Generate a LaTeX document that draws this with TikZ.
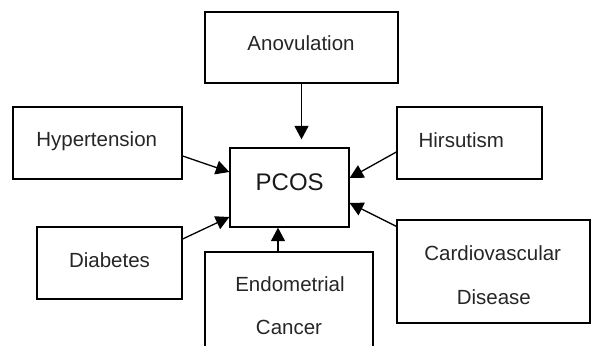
\documentclass[tikz,border=0pt]{standalone}
\usepackage{fontspec}
\setmainfont{Liberation Sans}
\usetikzlibrary{arrows.meta}
\begin{document}
\begin{tikzpicture}[x=1pt,y=-1pt,
  box/.style={draw=black, line width=1.3pt, rectangle, inner sep=0pt},
  txt/.style={anchor=base, inner sep=0pt, text=black!85, font=\fontsize{20.5}{24}\selectfont},
  bigtxt/.style={anchor=base, inner sep=0pt, text=black!90, font=\fontsize{24}{28}\selectfont},
  arr/.style={line width=1.3pt, -{Triangle[length=13.5pt,width=14pt]}}]
\useasboundingbox (0,0) rectangle (591,345);
\clip (0,0) rectangle (591,345);
% boxes
\node[box, minimum width=193pt, minimum height=71pt] (ano) at (301.5,47.5) {};
\node[box, minimum width=169pt, minimum height=72pt] (hyp) at (97.5,143) {};
\node[box, minimum width=145pt, minimum height=72pt] (hir) at (469.5,143) {};
\node[box, minimum width=119pt, minimum height=79pt] (pcos) at (289.5,187.5) {};
\node[box, minimum width=145pt, minimum height=72pt] (dia) at (109.5,263) {};
\node[box, minimum width=168pt, minimum height=130pt] (endo) at (289,317) {};
\node[box, minimum width=193pt, minimum height=103pt] (cvd) at (493.5,271.5) {};
% texts
\node[txt] (tano) at (301,51) {Anovulation};
\node[txt] (thyp) at (96.7,146.7) {Hypertension};
\node[txt] (thir) at (461.3,147.3) {Hirsutism};
\node[bigtxt] (tpcos) at (289.7,190) {PCOS};
\node[txt] (tdia) at (109.5,267.3) {Diabetes};
\node[txt] (tcvd1) at (492.7,260.7) {Cardiovascular};
\node[txt] (tcvd2) at (493.8,304) {Disease};
\node[txt] (tendo1) at (290,291.7) {Endometrial};
\node[txt] (tendo2) at (289,334.3) {Cancer};
% arrows
\draw[arr, shorten >=8pt] (ano.south) -- (ano.south |- pcos.north);
\draw[arr] ([yshift=-13pt]hyp.east) -- ([yshift=15.5pt]pcos.west);
\draw[arr] ([yshift=24pt]dia.east) -- ([yshift=-29.5pt]pcos.west);
\draw[arr] ([yshift=-9pt]hir.west) -- ([yshift=9.5pt]pcos.east);
\draw[arr] ([yshift=-7pt]cvd.north west) -- ([yshift=-15.5pt]pcos.east);
\draw[arr] ([xshift=-11pt]endo.north) -- ([xshift=-11pt]endo.north |- pcos.south);
\end{tikzpicture}
\end{document}
